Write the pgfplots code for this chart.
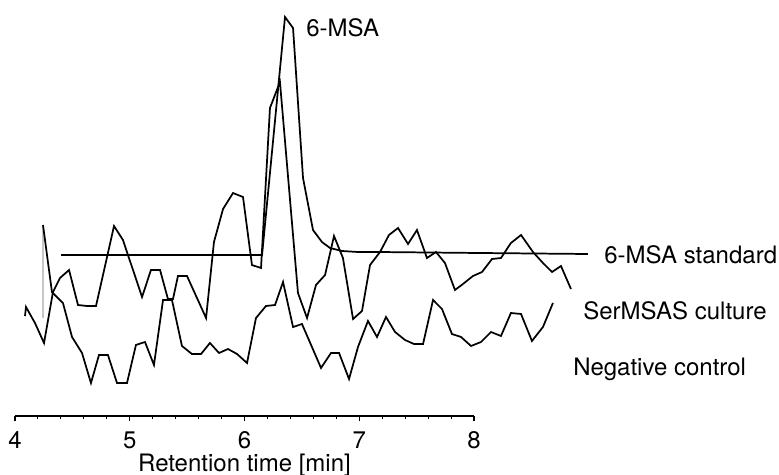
\documentclass[border=0pt]{standalone}
\usepackage{fontspec}
\setmainfont{TeX Gyre Heros}
\usepackage{pgfplots}
\pgfplotsset{compat=1.18}

\tikzset{trace/.style={black, line width=1.3pt, line join=miter, mark=none}}

\begin{document}
\begin{tikzpicture}
\begin{axis}[
  x=86.0625pt, y=0.75pt,
  xmin=4, xmax=8, ymin=0, ymax=416,
  clip=false,
  axis x line=bottom, axis y line=none,
  axis line style={-, line width=0.8pt},
  xtick={4,5,6,7,8}, minor x tick num=4,
  tick align=outside,
  major tick length=4pt, minor tick length=2.6pt,
  tick style={black, line width=0.8pt},
  /pgf/number format/assume math mode=true,
  tick label style={font=\fontsize{18}{21}\selectfont, yshift=-4pt},
  xlabel={Retention time [min]},
  xlabel style={font=\fontsize{18}{21}\selectfont, yshift=3pt},
]
% 6-MSA standard
\addplot[trace] coordinates {
 (4.401,161) (6.153,161) (6.353,399) (6.423,388) (6.510,238) (6.597,186)
 (6.675,174) (6.745,168) (6.850,165) (6.989,164) (7.163,164) (8.052,163) (8.993,162)};
% SerMSAS culture
\addplot[trace] coordinates {
 (4.087,100) (4.096,109) (4.174,93) (4.253,73) (4.331,124) (4.392,138)
 (4.471,146) (4.549,111) (4.627,110) (4.706,110) (4.863,190) (4.941,176)
 (5.107,119) (5.185,146) (5.264,146) (5.333,117) (5.377,117) (5.420,140)
 (5.499,140) (5.665,98) (5.734,174) (5.813,207) (5.900,223) (5.987,219)
 (6.065,151) (6.144,148) (6.222,308) (6.309,334) (6.466,123) (6.545,98)
 (6.623,131) (6.702,141) (6.780,180) (6.858,158) (6.946,97) (7.024,105)
 (7.094,151) (7.181,164) (7.259,181) (7.338,188) (7.425,172) (7.503,186)
 (7.590,158) (7.669,164) (7.747,153) (7.834,126) (7.904,132) (7.991,140)
 (8.070,144) (8.157,157) (8.235,158) (8.322,173) (8.410,181) (8.514,164)
 (8.601,153) (8.680,144) (8.758,150) (8.845,127)};
% Negative control (faint start marker, then trace)
\addplot[gray!45, line width=0.8pt] coordinates {(4.244,98) (4.244,191)};
\addplot[trace] coordinates {
 (4.244,191) (4.322,124) (4.418,113) (4.497,79) (4.584,63)
 (4.662,33) (4.732,61) (4.810,61) (4.889,33) (4.976,33) (5.054,71)
 (5.133,74) (5.211,51) (5.290,116) (5.368,116) (5.455,70) (5.542,62)
 (5.621,62) (5.699,73) (5.778,63) (5.856,67) (5.935,62) (6.022,53)
 (6.100,98) (6.187,110) (6.266,111) (6.336,134) (6.423,89) (6.501,92)
 (6.667,48) (6.754,63) (6.824,63) (6.911,37) (6.989,69) (7.076,95)
 (7.155,79) (7.233,99) (7.312,84) (7.399,76) (7.477,72) (7.556,72)
 (7.643,116) (7.721,107) (7.808,82) (7.887,79) (7.974,70) (8.061,74)
 (8.148,84) (8.235,80) (8.322,103) (8.410,102) (8.505,75) (8.601,89) (8.688,113)};

\node[anchor=west, font=\fontsize{18}{21}\selectfont, inner sep=0pt] at (axis cs:6.536,388) {6-MSA};
\node[anchor=west, font=\fontsize{18}{21}\selectfont, inner sep=0pt] at (axis cs:9.133,161) {6-MSA standard};
\node[anchor=west, font=\fontsize{18}{21}\selectfont, inner sep=0pt] at (axis cs:8.950,105) {SerMSAS culture};
\node[anchor=west, font=\fontsize{18}{21}\selectfont, inner sep=0pt] at (axis cs:8.863,47) {Negative control};

\coordinate (bl) at (axis cs:3.8693,-59);
\coordinate (tr) at (axis cs:10.658,416);
\end{axis}
\pgfresetboundingbox
\path[use as bounding box] (bl) rectangle (tr);
\end{tikzpicture}
\end{document}
